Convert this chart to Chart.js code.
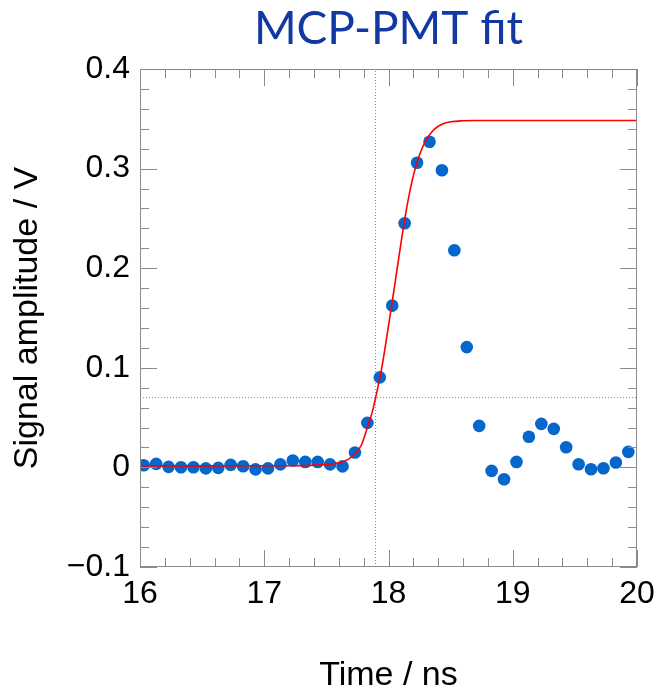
<!DOCTYPE html>
<html>
<head>
<meta charset="utf-8">
<script src="https://cdn.jsdelivr.net/npm/chart.js@4"></script>
<style>
  body { margin: 0; background: #fff; }
  canvas { display: block; }
</style>
</head>
<body>
<canvas id="pmt_fit" width="659" height="693"></canvas>
<script>
// measured samples (ns, V)
const sampleTimes = [
    16.03, 16.13, 16.23, 16.33, 16.43, 16.53, 16.63, 16.73, 16.83, 16.93,
    17.03, 17.13, 17.23, 17.33, 17.43, 17.53, 17.63, 17.73, 17.83, 17.93,
    18.03, 18.13, 18.23, 18.33, 18.43, 18.53, 18.63, 18.73, 18.83, 18.93,
    19.03, 19.13, 19.23, 19.33, 19.43, 19.53, 19.63, 19.73, 19.83, 19.93
];
const sampleAmps = [
    0.0022, 0.0035, 0.0005, 0.0002, 0.0001, -0.0010, -0.0005, 0.0025, 0.0012, -0.0020,
    -0.0010, 0.0030, 0.0070, 0.0055, 0.0055, 0.0030, 0.0010, 0.0150, 0.0447, 0.0904,
    0.1624, 0.2452, 0.3058, 0.3269, 0.2984, 0.2180, 0.1208, 0.0417, -0.0035, -0.0119,
    0.0055, 0.0307, 0.0437, 0.0387, 0.0203, 0.0032, -0.0018, -0.0008, 0.0049, 0.0156
];

// fit curve
const fitTimes = [
    16.0, 16.5, 17.0, 17.3, 17.45, 17.55, 17.65, 17.72, 17.78, 17.83,
    17.87, 17.9, 17.95, 18.0, 18.05, 18.1, 18.15, 18.2, 18.25, 18.3,
    18.35, 18.4, 18.45, 18.5, 18.6, 18.7, 20.0
];
const fitAmps = [
    0.0015, 0.0015, 0.0016, 0.0018, 0.0025, 0.0035, 0.0065, 0.0125, 0.022, 0.040,
    0.056, 0.072, 0.103, 0.142, 0.183, 0.225, 0.263, 0.293, 0.314, 0.328,
    0.337, 0.3425, 0.3455, 0.347, 0.348, 0.3483, 0.3483
];

// threshold crossing (dotted lines)
const thresholdTime = 17.895;
const thresholdAmp = 0.07;

const xTickValues = [16, 17, 18, 19, 20];
const xTickLabels = ['16', '17', '18', '19', '20'];
const yTickValues = [-0.1, 0, 0.1, 0.2, 0.3, 0.4];
const yTickLabels = ['\u22120.1', '0', '0.1', '0.2', '0.3', '0.4'];

const toXY = (xs, ys) => xs.map((v, i) => ({x: v, y: ys[i]}));

// ROOT style frame with inward ticks on all four sides
const frameTicks = {
    id: 'frameTicks',
    afterDatasetsDraw(chart) {
        const {ctx, chartArea: a, scales: {x, y}} = chart;
        ctx.save();
        ctx.strokeStyle = '#8a8a8a';
        ctx.lineWidth = 1;
        ctx.strokeRect(a.left + 0.5, a.top + 0.5, a.right - a.left - 1, a.bottom - a.top - 1);
        ctx.beginPath();
        for (let i = 0; i <= 20; i++) {
            const v = 16 + i * 0.2;
            const px = Math.round(x.getPixelForValue(v)) + 0.5;
            const len = i % 5 === 0 ? 17 : 9;
            ctx.moveTo(px, a.bottom); ctx.lineTo(px, a.bottom - len);
            ctx.moveTo(px, a.top); ctx.lineTo(px, a.top + len);
        }
        for (let i = 0; i <= 25; i++) {
            const v = -0.1 + i * 0.02;
            const py = Math.round(y.getPixelForValue(v)) + 0.5;
            const len = i % 5 === 0 ? 17 : 9;
            ctx.moveTo(a.left, py); ctx.lineTo(a.left + len, py);
            ctx.moveTo(a.right, py); ctx.lineTo(a.right - len, py);
        }
        ctx.stroke();
        ctx.restore();
    }
};

const tickFont = {family: '"Liberation Sans", Arial, sans-serif', size: 32};
const titleFont = {family: '"Liberation Sans", Arial, sans-serif', size: 34, lineHeight: 1};

const fitChart = new Chart(document.getElementById('pmt_fit'), {
    type: 'scatter',
    data: {
        datasets: [
            {
                label: 'fit',
                type: 'line',
                data: toXY(fitTimes, fitAmps),
                borderColor: '#ff0000',
                borderWidth: 1.6,
                pointRadius: 0,
                cubicInterpolationMode: 'monotone',
                order: 0
            },
            {
                label: 'data',
                data: toXY(sampleTimes, sampleAmps),
                backgroundColor: '#0566cc',
                borderWidth: 0,
                pointRadius: 6.3,
                order: 1
            },
            {
                label: 'threshold time',
                type: 'line',
                data: [{x: thresholdTime, y: -0.1}, {x: thresholdTime, y: 0.4}],
                borderColor: '#8a8a8a',
                borderWidth: 1,
                borderDash: [1, 2],
                pointRadius: 0,
                order: 2
            },
            {
                label: 'threshold amplitude',
                type: 'line',
                data: [{x: 16, y: thresholdAmp}, {x: 20, y: thresholdAmp}],
                borderColor: '#8a8a8a',
                borderWidth: 1,
                borderDash: [1, 2],
                pointRadius: 0,
                order: 2
            }
        ]
    },
    options: {
        responsive: false,
        animation: false,
        layout: {
            padding: {left: 0, right: 22, top: 0, bottom: 0}
        },
        plugins: {
            legend: {display: false},
            tooltip: {enabled: false},
            title: {
                display: true,
                text: 'MCP-PMT fit',
                fullSize: false,
                color: '#1239a3',
                font: {family: 'Lato, "Noto Sans", sans-serif', size: 46, weight: 'normal', lineHeight: 1.2},
                padding: {top: 2, bottom: 11.8}
            }
        },
        scales: {
            x: {
                type: 'linear',
                min: 16,
                max: 20,
                grid: {display: false, drawTicks: false},
                border: {display: false},
                afterBuildTicks: (s) => { s.ticks = xTickValues.map(v => ({value: v})); },
                afterFit: (s) => { s.height = 126; s.paddingLeft = 0; s.paddingRight = 0; },
                ticks: {
                    color: '#000',
                    font: tickFont,
                    padding: 8,
                    maxRotation: 0,
                    callback: (v) => xTickLabels[xTickValues.indexOf(v)]
                },
                title: {
                    display: true,
                    text: 'Time / ns',
                    color: '#000',
                    font: titleFont,
                    padding: {top: 0, bottom: 0}
                }
            },
            y: {
                type: 'linear',
                min: -0.1,
                max: 0.4,
                grid: {display: false, drawTicks: false},
                border: {display: false},
                afterBuildTicks: (s) => { s.ticks = yTickValues.map(v => ({value: v})); },
                afterFit: (s) => { s.width = 140; },
                ticks: {
                    color: '#000',
                    font: tickFont,
                    padding: 10,
                    callback: (v) => yTickLabels[yTickValues.indexOf(v)]
                },
                title: {
                    display: true,
                    text: 'Signal amplitude / V',
                    color: '#000',
                    font: titleFont,
                    padding: {top: 10.5, bottom: 0}
                }
            }
        }
    },
    plugins: [frameTicks]
});
</script>
</body>
</html>
